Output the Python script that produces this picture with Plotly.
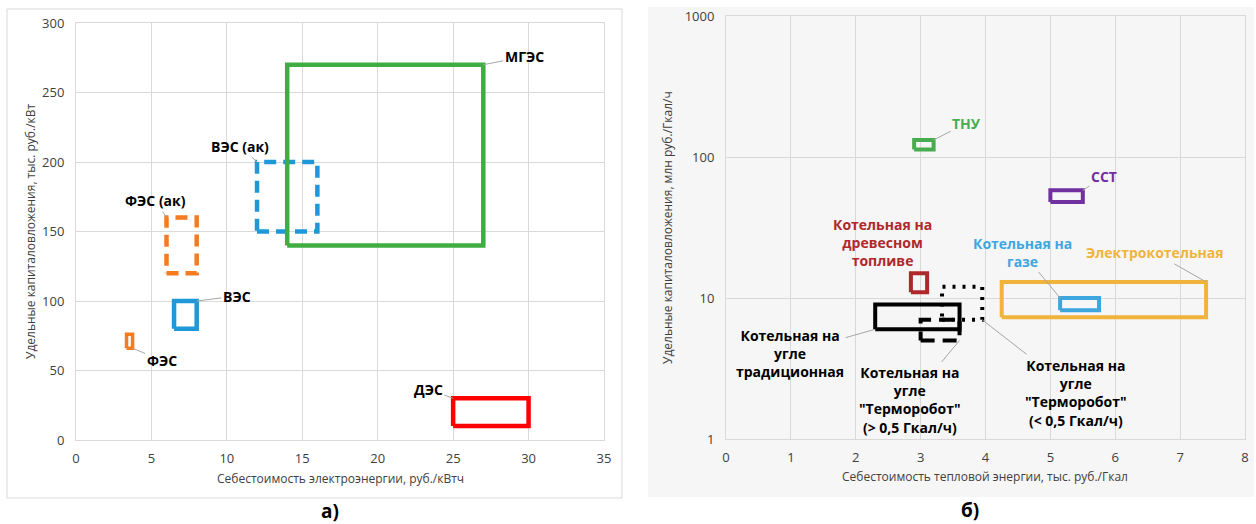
import math
import plotly.graph_objects as go

# ---------------- (а) electricity ----------------
el_names = ["ФЭС", "ВЭС", "ФЭС (ак)", "ВЭС (ак)", "МГЭС", "ДЭС"]
el_cost_min = [3.35, 6.5, 6.0, 12.0, 14.0, 25.0]
el_cost_max = [3.75, 8.0, 8.0, 16.0, 27.0, 30.0]
el_capex_min = [66, 80, 120, 150, 140, 10]
el_capex_max = [76, 100, 160, 200, 270, 30]
el_x_ticks = [0, 5, 10, 15, 20, 25, 30, 35]
el_y_ticks = [0, 50, 100, 150, 200, 250, 300]

# ---------------- (б) heat ----------------
th_names = [
    "Электрокотельная",
    "Котельная на<br>газе",
    "ТНУ",
    "ССТ",
    "Котельная на<br>древесном<br>топливе",
    "Котельная на<br>угле<br>\"Терморобот\"<br>(> 0,5 Гкал/ч)",
    "Котельная на<br>угле<br>традиционная",
    "Котельная на<br>угле<br>\"Терморобот\"<br>(< 0,5 Гкал/ч)",
]
th_cost_min = [4.25, 5.15, 2.9, 5.0, 2.85, 3.0, 2.3, 3.33]
th_cost_max = [7.4, 5.75, 3.2, 5.5, 3.1, 3.6, 3.6, 3.95]
th_capex_min = [7.3, 8.2, 113, 48, 11, 5, 6, 7]
th_capex_max = [13, 10, 132, 58, 15, 7, 9, 12]
th_x_ticks = [0, 1, 2, 3, 4, 5, 6, 7, 8]
th_y_ticks = [1, 10, 100, 1000]

# ---------------- styles ----------------
el_colors = ["#f47b20", "#1e98d7", "#f47b20", "#1e98d7", "#3dae3f", "#ff0000"]
el_dash = ["solid", "solid", "12px,7px", "12px,7px", "solid", "solid"]
el_width = [3.5, 4.5, 4.5, 4.5, 4.5, 4.5]
# label anchor corner and pixel offset of the text
el_label = [("xmax", "ymin", 29, 12), ("xmax", "ymax", 40, -5), ("xmin", "ymax", -11, -17),
            ("xmin", "ymax", -17, -16), ("xmax", "ymax", 41, -8), ("xmin", "ymax", -25, -9)]

th_colors = ["#f0b43c", "#3ea6df", "#48ad4e", "#7030a0", "#b0282a", "#000000", "#000000", "#000000"]
th_dash = ["solid", "solid", "solid", "solid", "solid", "14px,8px", "solid", "3px,7px"]
th_width = [4, 4, 4, 4, 4, 4, 4, 4]
th_text_colors = ["#f0b43c", "#3ea6df", "#48ad4e", "#7030a0", "#b0282a", "#000000", "#000000", "#000000"]
th_label = [("xmax", "ymax", -51, -29, True), ("xmin", "ymax", -38, -46, True),
            ("xmax", "ymax", 33, -17, True), ("xmax", "ymax", 21, -14, True),
            ("xmin", "ymax", -28, -31, False), ("xmax", "ymin", -50, 60, True),
            ("xmin", "ymin", -85, 24, True), ("xmax", "ymin", 94, 73, True)]

W, H = 1256, 524
FONT = "Open Sans"
TXT = "#404040"
GRID = "#d9d9d9"

fig = go.Figure()

def box(x0, x1, y0, y1):
    return [x0, x1, x1, x0, x0], [y0, y0, y1, y1, y0]

for i in range(len(el_names)):
    bx, by = box(el_cost_min[i], el_cost_max[i], el_capex_min[i], el_capex_max[i])
    fig.add_trace(go.Scatter(x=bx, y=by, mode="lines", xaxis="x", yaxis="y",
                             line=dict(color=el_colors[i], width=el_width[i], dash=el_dash[i]),
                             hoverinfo="skip", showlegend=False))

for i in range(len(th_names)):
    bx, by = box(th_cost_min[i], th_cost_max[i], th_capex_min[i], th_capex_max[i])
    fig.add_trace(go.Scatter(x=bx, y=by, mode="lines", xaxis="x2", yaxis="y2",
                             line=dict(color=th_colors[i], width=th_width[i], dash=th_dash[i]),
                             hoverinfo="skip", showlegend=False))

ann = []
for i, (cx, cy, ax, ay) in enumerate(el_label):
    px = el_cost_max[i] if cx == "xmax" else el_cost_min[i]
    py = el_capex_max[i] if cy == "ymax" else el_capex_min[i]
    ann.append(dict(x=px, y=py, xref="x", yref="y", text="<b>" + el_names[i] + "</b>",
                    showarrow=True, arrowhead=0, arrowwidth=1, arrowcolor="#a6a6a6",
                    ax=ax, ay=ay, standoff=0,
                    font=dict(family=FONT, size=14, color="#000000")))

for i, (cx, cy, ax, ay, arrow) in enumerate(th_label):
    px = th_cost_max[i] if cx == "xmax" else th_cost_min[i]
    py = th_capex_max[i] if cy == "ymax" else th_capex_min[i]
    ann.append(dict(x=px, y=math.log10(py), xref="x2", yref="y2", text="<b>" + th_names[i] + "</b>",
                    showarrow=True, arrowhead=0, arrowwidth=1,
                    arrowcolor="#a6a6a6" if arrow else "rgba(0,0,0,0)",
                    ax=ax, ay=ay, standoff=0,
                    font=dict(family=FONT, size=14, color=th_text_colors[i])))

def paper_text(px, py, text, size, color, angle=0):
    return dict(x=px / W, y=1 - py / H, xref="paper", yref="paper", showarrow=False,
                xanchor="center", yanchor="middle", textangle=angle, text=text,
                font=dict(family=FONT, size=size, color=color))

# axis titles and panel letters
ann += [
    paper_text(340, 478, "Себестоимость электроэнергии, руб./кВтч", 12, TXT),
    paper_text(30, 232, "Удельные капиталовложения, тыс. руб./кВт", 12, TXT, -90),
    paper_text(985, 476, "Себестоимость тепловой энергии, тыс. руб./Гкал", 12, TXT),
    paper_text(668, 228, "Удельные капиталовложения, млн руб./Гкал/ч", 12, TXT, -90),
    paper_text(330, 511, "<b>а)</b>", 19, "#000000"),
    paper_text(970, 510, "<b>б)</b>", 19, "#000000"),
]

shapes = [
    dict(type="rect", xref="paper", yref="paper", layer="below",
         x0=7 / W, x1=622 / W, y0=1 - 498 / H, y1=1 - 9 / H,
         line=dict(color="#d9d9d9", width=1), fillcolor="#ffffff"),
    dict(type="rect", xref="paper", yref="paper", layer="below",
         x0=648 / W, x1=1254 / W, y0=1 - 497 / H, y1=1 - 7 / H,
         line=dict(width=0), fillcolor="#f6f6f6"),
]

tickfont = dict(family=FONT, size=13, color=TXT)
common = dict(showgrid=True, gridcolor=GRID, gridwidth=1, zeroline=False,
              showline=True, mirror=True, linecolor=GRID, linewidth=1,
              ticks="", tickfont=tickfont, fixedrange=True, automargin=False)

fig.update_layout(
    width=W, height=H,
    margin=dict(l=0, r=0, t=0, b=0, autoexpand=False),
    paper_bgcolor="#ffffff",
    plot_bgcolor="rgba(0,0,0,0)",
    showlegend=False,
    xaxis=dict(domain=[76 / W, 604 / W], range=[0, 35], tickvals=el_x_ticks,
               ticklabelstandoff=6, anchor="y", **common),
    yaxis=dict(domain=[1 - 440 / H, 1 - 23 / H], range=[0, 300], tickvals=el_y_ticks,
               ticklabelstandoff=8, anchor="x", **common),
    xaxis2=dict(domain=[726 / W, 1245 / W], range=[0, 8], tickvals=th_x_ticks,
                ticklabelstandoff=6, anchor="y2", **common),
    yaxis2=dict(domain=[1 - 439 / H, 1 - 16 / H], type="log", range=[0, 3],
                tickvals=th_y_ticks, ticktext=[str(v) for v in th_y_ticks],
                ticklabelstandoff=8, anchor="x2", **common),
    annotations=ann,
    shapes=shapes,
)

fig.write_html("out.html", config={"staticPlot": True},
               post_script="document.body.style.margin='0';document.body.style.overflow='hidden';")
